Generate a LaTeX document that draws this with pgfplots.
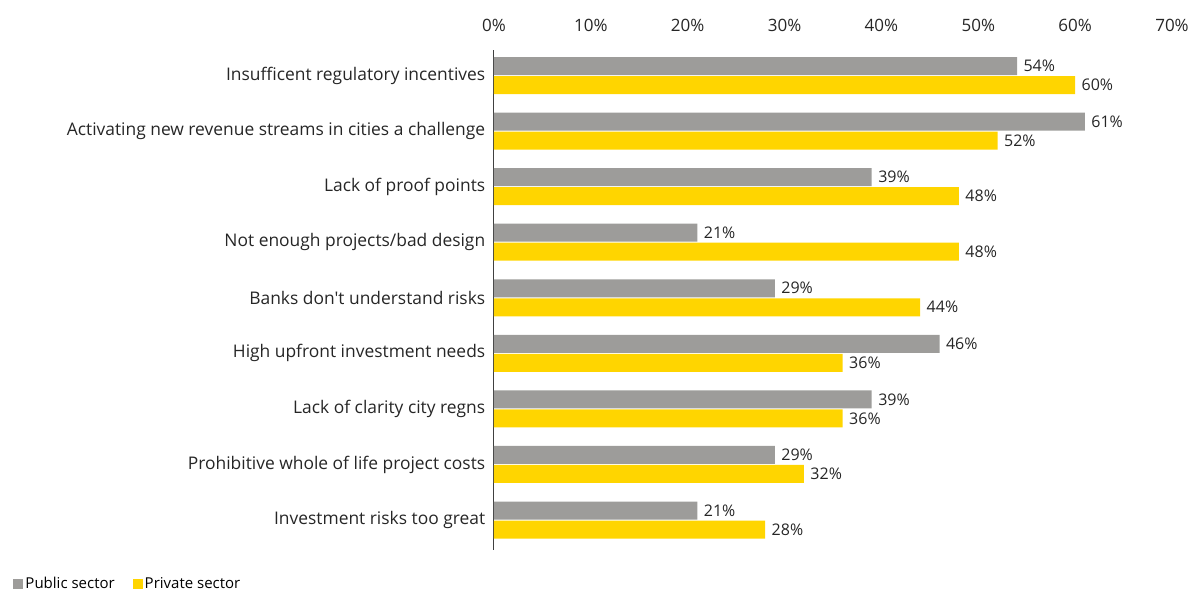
\documentclass[border=0pt]{standalone}
\usepackage{pgfplots}
\pgfplotsset{compat=1.18}
\usepackage{fontspec}
\setmainfont{Open Sans}[Ligatures=TeXOff]
\definecolor{pubgray}{HTML}{9D9C9A}
\definecolor{privyel}{HTML}{FFD500}
\definecolor{axgray}{HTML}{404040}
\begin{document}
\begin{tikzpicture}
\useasboundingbox (0pt,0pt) rectangle (1202pt,593pt);
\begin{axis}[
  at={(494pt,43pt)}, anchor=south west,
  scale only axis,
  width=678pt, height=500pt,
  xbar, bar width=18pt,
  xmin=0, xmax=70,
  ymin=-0.46, ymax=8.54,
  y dir=reverse,
  axis x line*=top,
  axis y line*=left,
  x axis line style={draw=none},
  y axis line style={draw=axgray, line width=1pt, -},
  xtick={0,10,...,70},
  xticklabels={0\%,10\%,20\%,30\%,40\%,50\%,60\%,70\%},
  xtick style={draw=none},
  ytick={0,...,8},
  ytick style={draw=none},
  yticklabels={Insufficent regulatory incentives,
    Activating new revenue streams in cities a challenge,
    Lack of proof points,
    Not enough projects/bad design,
    Banks don't understand risks,
    High upfront investment needs,
    Lack of clarity city regns,
    Prohibitive whole of life project costs,
    Investment risks too great},
  yticklabel style={font=\fontsize{17.4}{20}\selectfont, text=black!85, anchor=east, xshift=-1pt},
  xticklabel style={font=\fontsize{17}{20}\selectfont, text=black!85, yshift=15pt},
  nodes near coords={\pgfmathprintnumber[assume math mode=true]{\pgfplotspointmeta}\%},
  point meta=x,
  nodes near coords style={font=\fontsize{16}{18}\selectfont, text=black!85, anchor=west, xshift=3pt},
  legend style={at={(-0.709,-0.068)}, anchor=west, draw=none, fill=none,
    font=\fontsize{15}{17}\selectfont, legend columns=2,
    /tikz/every even column/.append style={column sep=16pt},
    legend cell align=left, inner sep=0pt},
  legend image code/.code={\fill[#1,draw=none] (0pt,-5pt) rectangle (10pt,5pt);},
]
\addplot[fill=pubgray, draw=none, bar shift=9.5pt] coordinates {
(54,0) (61,1) (39,2) (21,3) (29,4) (46,5) (39,6) (29,7) (21,8)};
\addplot[fill=privyel, draw=none, bar shift=-9.5pt] coordinates {
(60,0) (52,1) (48,2) (48,3) (44,4) (36,5) (36,6) (32,7) (28,8)};
\legend{Public sector, Private sector}
\end{axis}
\end{tikzpicture}
\end{document}
